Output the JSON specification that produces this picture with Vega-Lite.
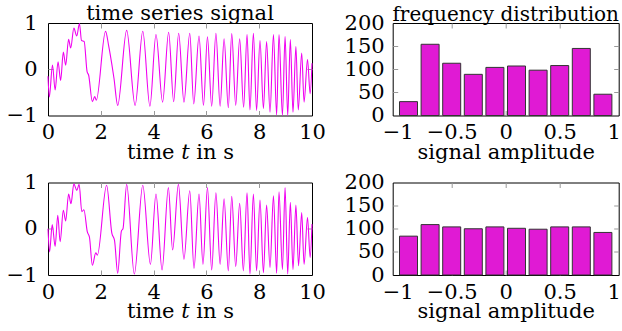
{
  "$schema": "https://vega.github.io/schema/vega-lite/v6.json",
  "background": "white",
  "padding": {"left": 5, "top": 2, "right": 0, "bottom": 0},
  "config": {
    "font": "DejaVu Serif",
    "view": {"stroke": "black", "strokeWidth": 1},
    "axis": {
      "domain": false,
      "grid": false,
      "minExtent": 0,
      "labelFont": "DejaVu Serif",
      "labelFontSize": 21,
      "labelColor": "black",
      "labelFlush": false,
      "labelOverlap": false,
      "titleFont": "DejaVu Serif",
      "titleFontSize": 21,
      "titleFontWeight": "normal",
      "titleColor": "black",
      "tickColor": "#999999",
      "tickWidth": 1,
      "tickSize": -5
    },
    "title": {"font": "DejaVu Serif", "fontSize": 21, "fontWeight": "normal", "color": "black"}
  },
  "datasets": {
    "signal_a": [
      {"t": 0, "v": -0.15}, {"t": 0.05, "v": -0.6}, {"t": 0.17, "v": 0.09}, {"t": 0.27, "v": -0.45},
      {"t": 0.38, "v": 0.16}, {"t": 0.48, "v": -0.24}, {"t": 0.58, "v": 0.37}, {"t": 0.67, "v": 0.09},
      {"t": 0.78, "v": 0.65}, {"t": 0.86, "v": 0.46}, {"t": 0.98, "v": 0.89}, {"t": 1.09, "v": 0.72},
      {"t": 1.19, "v": 0.99}, {"t": 1.27, "v": 0.62}, {"t": 1.37, "v": 0.6}, {"t": 1.48, "v": -0.05},
      {"t": 1.54, "v": -0.13}, {"t": 1.68, "v": -0.7}, {"t": 1.77, "v": -0.59}, {"t": 1.83, "v": -0.67},
      {"t": 2.18, "v": 0.82}, {"t": 2.3, "v": 0.5}, {"t": 2.42, "v": 0.1}, {"t": 2.5, "v": -0.2},
      {"t": 2.64, "v": -0.78}, {"t": 2.98, "v": 0.84}, {"t": 3.3, "v": -0.78}, {"t": 3.59, "v": 0.82},
      {"t": 3.86, "v": -0.8}, {"t": 4.09, "v": 0.75}, {"t": 4.34, "v": -0.71}, {"t": 4.57, "v": 0.8},
      {"t": 4.76, "v": -0.7}, {"t": 4.95, "v": 0.78}, {"t": 5.15, "v": -0.71}, {"t": 5.37, "v": 0.78},
      {"t": 5.52, "v": -0.75}, {"t": 5.72, "v": 0.72}, {"t": 5.89, "v": -0.78}, {"t": 6.04, "v": 0.7},
      {"t": 6.2, "v": -0.8}, {"t": 6.36, "v": 0.78}, {"t": 6.52, "v": -0.8}, {"t": 6.67, "v": 0.66},
      {"t": 6.83, "v": -0.83}, {"t": 6.96, "v": 0.77}, {"t": 7.11, "v": -0.78}, {"t": 7.26, "v": 0.66},
      {"t": 7.41, "v": -0.82}, {"t": 7.54, "v": 0.75}, {"t": 7.65, "v": -0.88}, {"t": 7.78, "v": 0.78},
      {"t": 7.9, "v": -0.89}, {"t": 8.03, "v": 0.62}, {"t": 8.16, "v": -0.85}, {"t": 8.28, "v": 0.6},
      {"t": 8.41, "v": -0.93}, {"t": 8.54, "v": 0.75}, {"t": 8.66, "v": -0.99}, {"t": 8.75, "v": 0.75},
      {"t": 8.88, "v": -1.0}, {"t": 8.98, "v": 0.71}, {"t": 9.08, "v": -1.0}, {"t": 9.18, "v": 0.64},
      {"t": 9.28, "v": -0.93}, {"t": 9.39, "v": 0.49}, {"t": 9.48, "v": -0.88}, {"t": 9.61, "v": 0.35},
      {"t": 9.7, "v": -0.71}, {"t": 9.83, "v": 0.21}, {"t": 9.93, "v": -0.53}, {"t": 10, "v": 0.13}
    ],
    "signal_b": [
      {"t": 0, "v": 0.0}, {"t": 0.06, "v": -0.5}, {"t": 0.16, "v": 0.09}, {"t": 0.27, "v": -0.38},
      {"t": 0.37, "v": 0.29}, {"t": 0.46, "v": -0.28}, {"t": 0.58, "v": 0.4}, {"t": 0.67, "v": 0.17},
      {"t": 0.78, "v": 0.75}, {"t": 0.87, "v": 0.54}, {"t": 0.98, "v": 0.97}, {"t": 1.09, "v": 0.83},
      {"t": 1.18, "v": 0.96}, {"t": 1.28, "v": 0.37}, {"t": 1.36, "v": 0.41}, {"t": 1.49, "v": -0.07},
      {"t": 1.57, "v": -0.18}, {"t": 1.68, "v": -0.79}, {"t": 1.81, "v": -0.52}, {"t": 1.87, "v": -0.57},
      {"t": 2.22, "v": 0.94}, {"t": 2.42, "v": -0.1}, {"t": 2.52, "v": -0.25}, {"t": 2.64, "v": -0.96},
      {"t": 2.78, "v": -0.05}, {"t": 2.84, "v": 0.0}, {"t": 2.98, "v": 0.96}, {"t": 3.27, "v": -0.98},
      {"t": 3.59, "v": 0.94}, {"t": 3.88, "v": -0.77}, {"t": 4.09, "v": 0.75}, {"t": 4.32, "v": -0.89},
      {"t": 4.56, "v": 0.89}, {"t": 4.72, "v": -0.46}, {"t": 4.94, "v": 0.96}, {"t": 5.15, "v": -0.66},
      {"t": 5.37, "v": 0.82}, {"t": 5.53, "v": -0.86}, {"t": 5.72, "v": 0.75}, {"t": 5.87, "v": -0.77},
      {"t": 6.04, "v": 0.89}, {"t": 6.2, "v": -0.89}, {"t": 6.36, "v": 0.78}, {"t": 6.52, "v": -0.77},
      {"t": 6.67, "v": 0.65}, {"t": 6.83, "v": -0.91}, {"t": 6.96, "v": 0.7}, {"t": 7.11, "v": -0.82},
      {"t": 7.26, "v": 0.55}, {"t": 7.4, "v": -0.91}, {"t": 7.54, "v": 0.78}, {"t": 7.65, "v": -0.98},
      {"t": 7.78, "v": 0.75}, {"t": 7.9, "v": -0.91}, {"t": 8.03, "v": 0.62}, {"t": 8.16, "v": -0.95},
      {"t": 8.28, "v": 0.51}, {"t": 8.41, "v": -0.84}, {"t": 8.54, "v": 0.71}, {"t": 8.66, "v": -0.96},
      {"t": 8.75, "v": 0.8}, {"t": 8.88, "v": -0.88}, {"t": 8.98, "v": 0.89}, {"t": 9.08, "v": -0.98},
      {"t": 9.18, "v": 0.57}, {"t": 9.28, "v": -0.88}, {"t": 9.39, "v": 0.51}, {"t": 9.49, "v": -0.8},
      {"t": 9.61, "v": 0.35}, {"t": 9.7, "v": -0.77}, {"t": 9.83, "v": 0.24}, {"t": 9.93, "v": -0.62},
      {"t": 10, "v": 0.1}
    ],
    "hist_a": [
      {"center": -0.9, "count": 30}, {"center": -0.7, "count": 154}, {"center": -0.5, "count": 113},
      {"center": -0.3, "count": 89}, {"center": -0.1, "count": 104}, {"center": 0.1, "count": 107},
      {"center": 0.3, "count": 98}, {"center": 0.5, "count": 108}, {"center": 0.7, "count": 145},
      {"center": 0.9, "count": 46}
    ],
    "hist_b": [
      {"center": -0.9, "count": 84}, {"center": -0.7, "count": 109}, {"center": -0.5, "count": 104},
      {"center": -0.3, "count": 100}, {"center": -0.1, "count": 104}, {"center": 0.1, "count": 101},
      {"center": 0.3, "count": 99}, {"center": 0.5, "count": 104}, {"center": 0.7, "count": 104},
      {"center": 0.9, "count": 92}
    ]
  },
  "bounds": "flush",
  "columns": 2,
  "spacing": {"row": 66.5, "column": 80.7},
  "concat": [
    {
      "width": 264,
      "height": 92.5,
      "title": {"text": "time series signal", "baseline": "alphabetic", "offset": 3, "dy": 32, "fontSize": 21},
      "data": {"name": "signal_a"},
      "layer": [
        {
          "mark": {"type": "line", "color": "#F000F0", "strokeWidth": 1.1, "interpolate": "monotone"},
          "encoding": {
            "x": {"field": "t", "type": "quantitative", "scale": {"domain": [0, 10], "nice": false},
              "axis": {"orient": "bottom", "values": [0, 2, 4, 6, 8, 10], "title": "time 𝑡 in s", "labelPadding": 11, "titlePadding": -1.5,
                "tickOpacity": {"condition": {"test": "datum.value <= 0 || datum.value >= 10", "value": 0}, "value": 1}}},
            "y": {"field": "v", "type": "quantitative", "scale": {"domain": [-1, 1], "nice": false},
              "axis": {"orient": "left", "values": [-1, 0, 1], "format": "~g", "title": null, "labelPadding": 16,
                "tickOpacity": {"condition": {"test": "abs(datum.value) >= 1", "value": 0}, "value": 1}}}
          }
        },
        {
          "mark": {"type": "line", "strokeOpacity": 0, "interpolate": "monotone"},
          "encoding": {
            "x": {"field": "t", "type": "quantitative", "scale": {"domain": [0, 10], "nice": false},
              "axis": {"orient": "top", "values": [2, 4, 6, 8], "labels": false, "title": null, "maxExtent": 0}},
            "y": {"field": "v", "type": "quantitative", "scale": {"domain": [-1, 1], "nice": false},
              "axis": {"orient": "right", "values": [0], "labels": false, "title": null, "maxExtent": 0}}
          }
        }
      ],
      "resolve": {"axis": {"x": "independent", "y": "independent"}}
    },
    {
      "width": 226,
      "height": 92.5,
      "title": {"text": "frequency distribution", "baseline": "alphabetic", "offset": 3, "dy": 32, "fontSize": 20},
      "data": {"name": "hist_a"},
      "layer": [
        {
          "mark": {"type": "bar", "orient": "vertical", "size": 18, "color": "#E01AD4", "stroke": "#333333", "strokeWidth": 1},
          "encoding": {
            "x": {"field": "center", "type": "quantitative", "scale": {"domain": [-1, 1], "nice": false},
              "axis": {"orient": "bottom", "values": [-1, -0.5, 0, 0.5, 1], "format": "~g", "title": "signal amplitude", "labelPadding": 11, "titlePadding": -1.5,
                "tickOpacity": {"condition": {"test": "abs(datum.value) >= 1", "value": 0}, "value": 1}}},
            "y": {"field": "count", "type": "quantitative", "scale": {"domain": [0, 200], "nice": false},
              "axis": {"orient": "left", "values": [0, 50, 100, 150, 200], "title": null, "labelPadding": 13.5,
                "tickOpacity": {"condition": {"test": "datum.value <= 0 || datum.value >= 200", "value": 0}, "value": 1}}}
          }
        },
        {
          "mark": {"type": "bar", "orient": "vertical", "size": 18, "opacity": 0},
          "encoding": {
            "x": {"field": "center", "type": "quantitative", "scale": {"domain": [-1, 1], "nice": false},
              "axis": {"orient": "top", "values": [-0.5, 0, 0.5], "labels": false, "title": null, "maxExtent": 0}},
            "y": {"field": "count", "type": "quantitative", "scale": {"domain": [0, 200], "nice": false},
              "axis": {"orient": "right", "values": [50, 100, 150], "labels": false, "title": null, "maxExtent": 0}}
          }
        }
      ],
      "resolve": {"axis": {"x": "independent", "y": "independent"}}
    },
    {
      "width": 264,
      "height": 92.5,
      "data": {"name": "signal_b"},
      "layer": [
        {
          "mark": {"type": "line", "color": "#F000F0", "strokeWidth": 1.1, "interpolate": "monotone"},
          "encoding": {
            "x": {"field": "t", "type": "quantitative", "scale": {"domain": [0, 10], "nice": false},
              "axis": {"orient": "bottom", "values": [0, 2, 4, 6, 8, 10], "title": "time 𝑡 in s", "labelPadding": 11, "titlePadding": -1.5,
                "tickOpacity": {"condition": {"test": "datum.value <= 0 || datum.value >= 10", "value": 0}, "value": 1}}},
            "y": {"field": "v", "type": "quantitative", "scale": {"domain": [-1, 1], "nice": false},
              "axis": {"orient": "left", "values": [-1, 0, 1], "format": "~g", "title": null, "labelPadding": 16,
                "tickOpacity": {"condition": {"test": "abs(datum.value) >= 1", "value": 0}, "value": 1}}}
          }
        },
        {
          "mark": {"type": "line", "strokeOpacity": 0, "interpolate": "monotone"},
          "encoding": {
            "x": {"field": "t", "type": "quantitative", "scale": {"domain": [0, 10], "nice": false},
              "axis": {"orient": "top", "values": [2, 4, 6, 8], "labels": false, "title": null, "maxExtent": 0}},
            "y": {"field": "v", "type": "quantitative", "scale": {"domain": [-1, 1], "nice": false},
              "axis": {"orient": "right", "values": [0], "labels": false, "title": null, "maxExtent": 0}}
          }
        }
      ],
      "resolve": {"axis": {"x": "independent", "y": "independent"}}
    },
    {
      "width": 226,
      "height": 92.5,
      "data": {"name": "hist_b"},
      "layer": [
        {
          "mark": {"type": "bar", "orient": "vertical", "size": 18, "color": "#E01AD4", "stroke": "#333333", "strokeWidth": 1},
          "encoding": {
            "x": {"field": "center", "type": "quantitative", "scale": {"domain": [-1, 1], "nice": false},
              "axis": {"orient": "bottom", "values": [-1, -0.5, 0, 0.5, 1], "format": "~g", "title": "signal amplitude", "labelPadding": 11, "titlePadding": -1.5,
                "tickOpacity": {"condition": {"test": "abs(datum.value) >= 1", "value": 0}, "value": 1}}},
            "y": {"field": "count", "type": "quantitative", "scale": {"domain": [0, 200], "nice": false},
              "axis": {"orient": "left", "values": [0, 50, 100, 150, 200], "title": null, "labelPadding": 13.5,
                "tickOpacity": {"condition": {"test": "datum.value <= 0 || datum.value >= 200", "value": 0}, "value": 1}}}
          }
        },
        {
          "mark": {"type": "bar", "orient": "vertical", "size": 18, "opacity": 0},
          "encoding": {
            "x": {"field": "center", "type": "quantitative", "scale": {"domain": [-1, 1], "nice": false},
              "axis": {"orient": "top", "values": [-0.5, 0, 0.5], "labels": false, "title": null, "maxExtent": 0}},
            "y": {"field": "count", "type": "quantitative", "scale": {"domain": [0, 200], "nice": false},
              "axis": {"orient": "right", "values": [50, 100, 150], "labels": false, "title": null, "maxExtent": 0}}
          }
        }
      ],
      "resolve": {"axis": {"x": "independent", "y": "independent"}}
    }
  ]
}
